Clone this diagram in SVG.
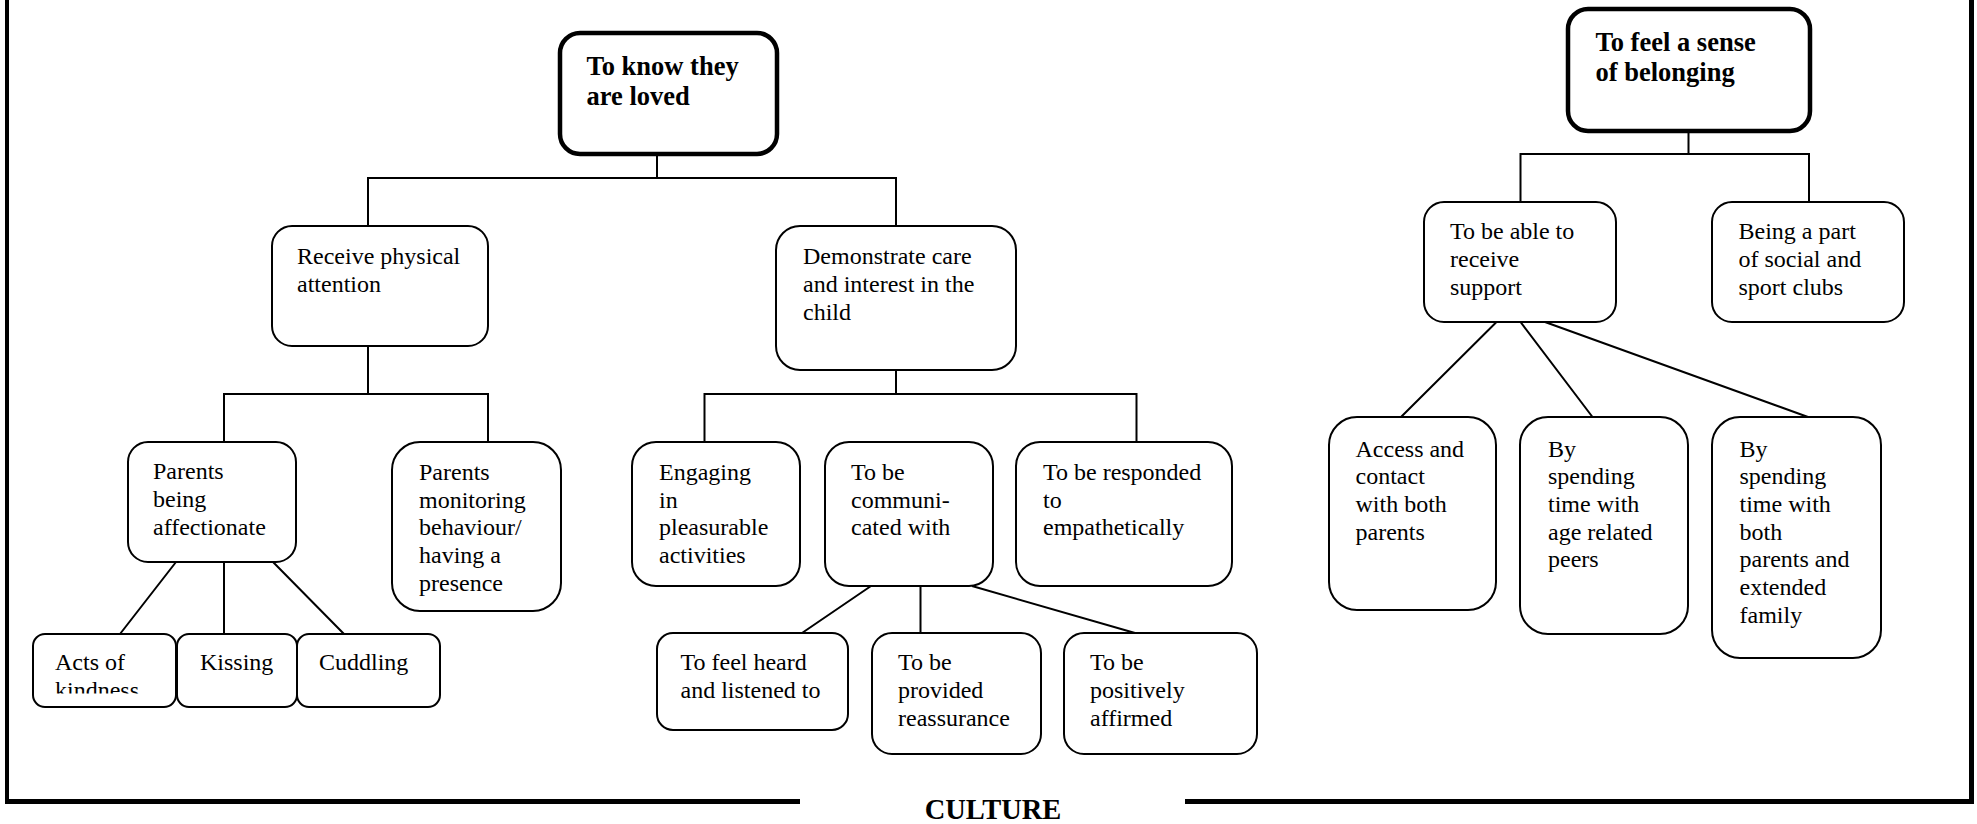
<svg xmlns="http://www.w3.org/2000/svg" width="1977" height="824" viewBox="0 0 1977 824">
<style>
.box{fill:#fff;stroke:#000;stroke-width:2}
.root{fill:#fff;stroke:#000;stroke-width:4.5}
.t{font-family:"Liberation Serif","Times New Roman",serif;font-size:24px;fill:#000}
.b{font-family:"Liberation Serif","Times New Roman",serif;font-size:26.5px;font-weight:bold;fill:#000}
.conn path{fill:none;stroke:#000;stroke-width:2}
.frame{fill:none;stroke:#000}
</style>
<defs>
<clipPath id="clipActs"><rect x="33" y="634" width="143" height="59.5"/></clipPath>
</defs>
<rect width="1977" height="824" fill="#fff"/>
<g id="frame">
<path class="frame" d="M7,0 V803" stroke-width="4"/>
<path class="frame" d="M1971.5,0 V804" stroke-width="5"/>
<path class="frame" d="M5,801.5 H800" stroke-width="5"/>
<path class="frame" d="M1185,801.5 H1974" stroke-width="5"/>
<text x="993" y="818.5" text-anchor="middle" font-family="Liberation Serif,'Times New Roman',serif" font-size="28.5" font-weight="bold">CULTURE</text>
</g>
<g id="connectors" class="conn">
<path d="M657,154 V178 M368,226 V178 H896 V226"/>
<path d="M368,346 V394 M224,442 V394 H488 V442"/>
<path d="M176,562 L120,634 M224,562 V634 M273,562 L344,634"/>
<path d="M896,370 V394 M704.5,442 V394 H1136.5 V442"/>
<path d="M871,586 L802,633 M920.5,586 V633 M972,586 L1135,633"/>
<path d="M1688.5,131 V154 M1520.5,202 V154 H1809 V202"/>
<path d="M1496.5,322 L1401,417 M1520.5,322 L1592.5,417 M1545,322 L1808,417"/>
</g>
<g id="n1"><rect class="root" x="560" y="33" width="217" height="121" rx="20"/>
<text class="b" x="586.5" y="74.5">To know they</text><text class="b" x="586.5" y="105">are loved</text></g>
<g id="n2"><rect class="box" x="272" y="226" width="216" height="120" rx="20"/>
<text class="t" x="297" y="264">Receive physical</text><text class="t" x="297" y="292">attention</text></g>
<g id="n3"><rect class="box" x="776" y="226" width="240" height="144" rx="24"/>
<text class="t" x="803" y="263.5">Demonstrate care</text><text class="t" x="803" y="291.5">and interest in the</text><text class="t" x="803" y="319.5">child</text></g>
<g id="n4"><rect class="box" x="128" y="442" width="168" height="120" rx="20"/>
<text class="t" x="153" y="479">Parents</text><text class="t" x="153" y="507">being</text><text class="t" x="153" y="535">affectionate</text></g>
<g id="n5"><rect class="box" x="392" y="442" width="169" height="169" rx="28"/>
<text class="t" x="419" y="480">Parents</text><text class="t" x="419" y="507.5">monitoring</text><text class="t" x="419" y="535">behaviour/</text><text class="t" x="419" y="563">having a</text><text class="t" x="419" y="591">presence</text></g>
<g id="n6"><rect class="box" x="33" y="634" width="143" height="73" rx="12"/>
<g clip-path="url(#clipActs)"><text class="t" x="55" y="669.5">Acts of</text><text class="t" x="55" y="697.5">kindness</text></g></g>
<g id="n7"><rect class="box" x="177" y="634" width="120" height="73" rx="12"/>
<text class="t" x="200" y="670">Kissing</text></g>
<g id="n8"><rect class="box" x="297" y="634" width="143" height="73" rx="12"/>
<text class="t" x="319" y="670">Cuddling</text></g>
<g id="n9"><rect class="box" x="632" y="442" width="168" height="144" rx="24"/>
<text class="t" x="659" y="480">Engaging</text><text class="t" x="659" y="507.5">in</text><text class="t" x="659" y="535">pleasurable</text><text class="t" x="659" y="563">activities</text></g>
<g id="n10"><rect class="box" x="825" y="442" width="168" height="144" rx="24"/>
<text class="t" x="851" y="480">To be</text><text class="t" x="851" y="507.5">communi-</text><text class="t" x="851" y="535">cated with</text></g>
<g id="n11"><rect class="box" x="1016" y="442" width="216" height="144" rx="24"/>
<text class="t" x="1043" y="480">To be responded</text><text class="t" x="1043" y="507.5">to</text><text class="t" x="1043" y="535">empathetically</text></g>
<g id="n12"><rect class="box" x="657" y="633" width="191" height="97" rx="16"/>
<text class="t" x="680.5" y="669.5">To feel heard</text><text class="t" x="680.5" y="697.5">and listened to</text></g>
<g id="n13"><rect class="box" x="872" y="633" width="169" height="121" rx="20"/>
<text class="t" x="898" y="670">To be</text><text class="t" x="898" y="698">provided</text><text class="t" x="898" y="726">reassurance</text></g>
<g id="n14"><rect class="box" x="1064" y="633" width="193" height="121" rx="20"/>
<text class="t" x="1090" y="670">To be</text><text class="t" x="1090" y="698">positively</text><text class="t" x="1090" y="726">affirmed</text></g>
<g id="n15"><rect class="root" x="1568" y="9" width="242" height="122" rx="20"/>
<text class="b" x="1595.5" y="50.5">To feel a sense</text><text class="b" x="1595.5" y="81">of belonging</text></g>
<g id="n16"><rect class="box" x="1424" y="202" width="192" height="120" rx="20"/>
<text class="t" x="1450" y="238.5">To be able to</text><text class="t" x="1450" y="266.5">receive</text><text class="t" x="1450" y="294.5">support</text></g>
<g id="n17"><rect class="box" x="1712" y="202" width="192" height="120" rx="20"/>
<text class="t" x="1738.5" y="238.5">Being a part</text><text class="t" x="1738.5" y="266.5">of social and</text><text class="t" x="1738.5" y="294.5">sport clubs</text></g>
<g id="n18"><rect class="box" x="1329" y="417" width="167" height="193" rx="28"/>
<text class="t" x="1355.5" y="456.5">Access and</text><text class="t" x="1355.5" y="484">contact</text><text class="t" x="1355.5" y="511.5">with both</text><text class="t" x="1355.5" y="539.5">parents</text></g>
<g id="n19"><rect class="box" x="1520" y="417" width="168" height="217" rx="28"/>
<text class="t" x="1548" y="456.5">By</text><text class="t" x="1548" y="484">spending</text><text class="t" x="1548" y="511.5">time with</text><text class="t" x="1548" y="539.5">age related</text><text class="t" x="1548" y="567">peers</text></g>
<g id="n20"><rect class="box" x="1712" y="417" width="169" height="241" rx="28"/>
<text class="t" x="1739.5" y="456.5">By</text><text class="t" x="1739.5" y="484">spending</text><text class="t" x="1739.5" y="511.5">time with</text><text class="t" x="1739.5" y="539.5">both</text><text class="t" x="1739.5" y="567">parents and</text><text class="t" x="1739.5" y="594.5">extended</text><text class="t" x="1739.5" y="622.5">family</text></g>
</svg>
